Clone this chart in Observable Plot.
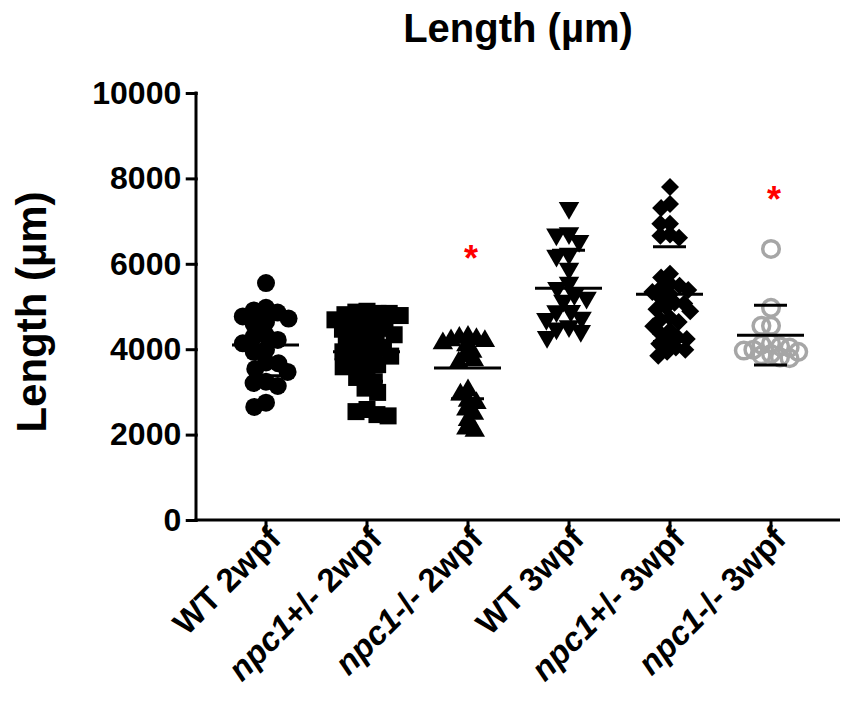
<!DOCTYPE html>
<html><head><meta charset="utf-8">
<script src="https://cdn.jsdelivr.net/npm/d3@7"></script>
<script src="https://cdn.jsdelivr.net/npm/@observablehq/plot@0.6"></script>
<style>
body{margin:0;background:#fff;}
#wrap{position:relative;width:851px;height:710px;font-family:"Liberation Sans",Arial,sans-serif;color:#000;}
#title{position:absolute;left:196px;width:644px;top:8px;line-height:40px;text-align:center;font-weight:bold;font-size:40px;}
#ylab{position:absolute;left:-118px;top:291px;width:300px;line-height:42px;text-align:center;font-weight:bold;font-size:42px;transform:rotate(-90deg);white-space:nowrap;}
</style></head>
<body>
<div id="wrap"><div id="chart"></div><div id="title">Length (µm)</div><div id="ylab">Length (µm)</div></div>
<script>
const categories = ["WT 2wpf", "npc1+/- 2wpf", "npc1-/- 2wpf", "WT 3wpf", "npc1+/- 3wpf", "npc1-/- 3wpf"];
const wt2 = [5560, 4980, 4920, 4870, 4780, 4730, 4650, 4600, 4330, 4300, 4230, 4150, 4000, 3950, 3700, 3680, 3550, 3480, 3250, 3220, 3150, 2760, 2660];
const het2 = [4900, 4880, 4850, 4850, 4820, 4800, 4700, 4650, 4600, 4550, 4500, 4480, 4400, 4350, 4300, 4250, 4200, 4100, 4050, 4000, 3950, 3900, 3850, 3800, 3700, 3650, 3600, 3450, 3350, 3250, 3100, 3000, 2600, 2550, 2480, 2450];
const hom2 = [4300, 4280, 4250, 4220, 4200, 4150, 4100, 3950, 3850, 3750, 3700, 3050, 2950, 2800, 2750, 2600, 2500, 2350, 2150, 2100];
const wt3 = [7320, 6730, 6700, 6550, 6250, 6200, 5900, 5570, 5450, 5300, 5220, 5150, 4910, 4900, 4750, 4720, 4550, 4500, 4440, 4300];
const het3 = [7810, 7410, 7320, 6950, 6950, 6700, 6670, 6620, 5780, 5690, 5540, 5500, 5450, 5400, 5350, 5300, 5200, 5100, 5080, 5000, 4950, 4900, 4750, 4700, 4650, 4550, 4450, 4370, 4300, 4250, 4200, 4140, 4050, 4000, 3950, 3860];
const hom3 = [6360, 4980, 4560, 4560, 4150, 4120, 4080, 4050, 4000, 3980, 3950, 3900, 3870, 3820, 3800];
const groupValues = [wt2, het2, hom2, wt3, het3, hom3];
const means = [4110, 3950, 3570, 5440, 5300, 4340];
const sds = [720, 690, 720, 890, 1110, 700];
const starGroups = ["npc1-/- 2wpf", "npc1-/- 3wpf"];
const starValues = [6330, 7700];
const yTicks = [0, 2000, 4000, 6000, 8000, 10000];

const ML = 196, MR = 11, MT = 93, MB = 190, W = 851, H = 710;
const PAD_OUTER = 0.17;
const step = (W - ML - MR) / (categories.length + 2 * PAD_OUTER);
const frameShift = step * PAD_OUTER;

const styles = [
  {symbol: "circle", r: 9, fill: "black", stroke: "none", sw: 0, rotate: 0, padding: -5.5},
  {symbol: "square", r: 9.6, fill: "black", stroke: "none", sw: 0, rotate: 0, padding: -8},
  {symbol: "triangle", r: 7.6, fill: "black", stroke: "none", sw: 0, rotate: 0, padding: -6.5},
  {symbol: "triangle", r: 7.6, fill: "black", stroke: "none", sw: 0, rotate: 180, padding: -2.5},
  {symbol: "diamond2", r: 8.1, fill: "black", stroke: "none", sw: 0, rotate: 0, padding: -6.5},
  {symbol: "circle", r: 8.3, fill: "none", stroke: "#a6a6a6", sw: 3.5, rotate: 0, padding: -7}
];

const dotMarks = categories.map((c, i) => {
  const rows = groupValues[i].map(v => ({group: c, value: v}));
  const s = styles[i];
  return Plot.dot(rows, Plot.dodgeX({anchor: "middle", padding: s.padding}, {
    fx: "group", y: "value", r: s.r, symbol: s.symbol, fill: s.fill,
    stroke: s.stroke, strokeWidth: s.sw, rotate: s.rotate
  }));
});

const stats = categories.map((c, i) => ({group: c, mean: means[i], lo: means[i] - sds[i], hi: means[i] + sds[i]}));
const stars = starGroups.map((g, i) => ({group: g, value: starValues[i]}));

const chart = Plot.plot({
  width: W, height: H,
  marginLeft: ML, marginRight: MR, marginTop: MT, marginBottom: MB,
  style: {fontFamily: "Liberation Sans, Arial, sans-serif", color: "black", background: "white", overflow: "visible"},
  fx: {domain: categories, paddingInner: 0, paddingOuter: PAD_OUTER},
  y: {domain: [0, 10000]},
  x: {axis: null},
  marks: [
    Plot.axisY({ticks: yTicks, tickFormat: "d", tickSize: 12, tickPadding: 5, fontSize: 32, fontWeight: "bold", strokeWidth: 3, label: null, dx: -frameShift}),
    Plot.axisFx({anchor: "bottom", label: null, tickRotate: -45, tickSize: 12, tickPadding: 2, fontSize: 33, fontWeight: "bold", strokeWidth: 3}),
    ...dotMarks,
    Plot.ruleX(stats, {fx: "group", y1: "lo", y2: "hi", stroke: "black", strokeWidth: 3}),
    Plot.ruleY(stats, {fx: "group", y: "mean", insetLeft: 17, insetRight: 17, stroke: "black", strokeWidth: 3}),
    Plot.ruleY(stats, {fx: "group", y: "lo", insetLeft: 34, insetRight: 34, stroke: "black", strokeWidth: 3}),
    Plot.ruleY(stats, {fx: "group", y: "hi", insetLeft: 34, insetRight: 34, stroke: "black", strokeWidth: 3}),
    Plot.text(stars, {fx: "group", y: "value", text: () => "*", fill: "#ff0000", fontSize: 36, fontWeight: "bold", dx: 3, dy: 9})
  ]
});
document.getElementById("chart").appendChild(chart);

const svg = d3.select(chart);
const ys = chart.scale("y");
const yBottom = ys.apply(0), yTop = ys.apply(10000);
svg.append("line").attr("x1", ML).attr("x2", ML).attr("y1", yBottom).attr("y2", yTop - 1.5)
  .attr("stroke", "black").attr("stroke-width", 3);
svg.append("line").attr("x1", ML - 1.5).attr("x2", W - MR).attr("y1", yBottom).attr("y2", yBottom)
  .attr("stroke", "black").attr("stroke-width", 3);

// italicise the gene name and nudge rotated category labels
svg.selectAll("text").each(function() {
  const t = this.textContent;
  if (categories.includes(t)) {
    const el = d3.select(this);
    el.attr("dx", 6);
    const tr = el.attr("transform") || "";
    el.attr("transform", "translate(5,3) " + tr);
    if (t.startsWith("npc1")) {
      el.text("");
      el.append("tspan").attr("font-style", "italic").text("npc1");
      el.append("tspan").text(t.slice(4));
    }
  }
});
</script>
</body></html>
